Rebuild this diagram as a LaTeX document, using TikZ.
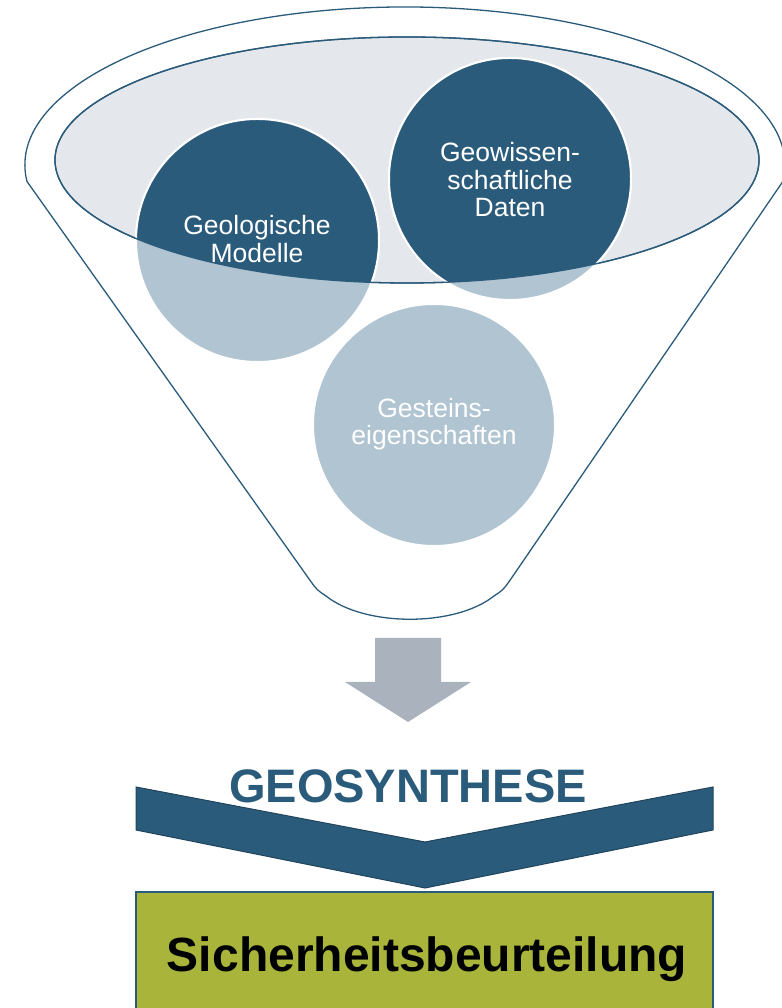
\documentclass[tikz,border=0pt]{standalone}
\usepackage{fontspec}
\setmainfont{Liberation Sans}
\definecolor{geoblue}{RGB}{43,91,123}
\definecolor{geolight}{RGB}{176,196,209}
\definecolor{geogray}{RGB}{228,231,235}
\definecolor{arrowgray}{RGB}{170,178,190}
\definecolor{geogreen}{RGB}{169,180,58}

\begin{document}
\begin{tikzpicture}[x=1pt,y=1pt,
    rim/.style={draw=geoblue, line width=1.3pt},
    blobtext/.style={text=white, align=center, inner sep=0pt, font=\fontsize{26.5}{27.5}\selectfont}]
    \useasboundingbox (0,0) rectangle (781,1008);
    % funnel
    \draw[rim, fill=white] (27,826.5) arc[start angle=186, end angle=-6, x radius=380, y radius=158]
        -- (509.5,427) .. controls (503,418) .. (494,412) .. controls (455,381) and (365,381) .. (326,412)
        .. controls (317,418) .. (310.5,427) -- cycle;
    \draw[rim, fill=geogray] (407,848) ellipse[x radius=352, y radius=123];
    \coordinate (gm) at (257.5,767.5);
    \coordinate (gd) at (510,829);
    \coordinate (ge) at (434,583);
    \filldraw[fill=geolight, draw=white, line width=2pt] (gm) circle[radius=121.5] (gd) circle[radius=121] (ge) circle[radius=121];
    \begin{scope}
        \clip (407,848) ellipse[x radius=352, y radius=123];
        \filldraw[fill=geoblue, draw=white, line width=2pt] (gm) circle[radius=121.5] (gd) circle[radius=121];
    \end{scope}
    \draw[rim] (407,848) ellipse[x radius=352, y radius=123];
    \node[blobtext] (gmtext) at (257,769) {Geologische\\Modelle};
    \node[blobtext] (gdtext) at (510,828) {Geowissen-\\schaftliche\\Daten};
    \node[blobtext] (getext) at (434,584) {Gesteins-\\eigenschaften};
    % arrow and chevron
    \fill[arrowgray] (375,370) -- ++(66,0) -- ++(0,-44) -- ++(30,0) -- (408,286) -- (345,326) -- ++(30,0) -- cycle;
    \filldraw[fill=geoblue, draw=geoblue!75!black, line width=1pt] (136,221) -- (425,166) -- (713,221) -- (713,178) -- (425,120) -- (136,178) -- cycle;
    \node[anchor=base, text=geoblue, font=\bfseries\fontsize{47}{47}\selectfont] (geo) at (408,205) {GEOSYNTHESE};
    \filldraw[fill=geogreen, draw=geoblue, line width=1.2pt] (136,-5) rectangle (713,116);
    \node[anchor=base, font=\bfseries\fontsize{48}{48}\selectfont] (sb) at (427,36) {Sicherheitsbeurteilung};
\end{tikzpicture}
\end{document}
